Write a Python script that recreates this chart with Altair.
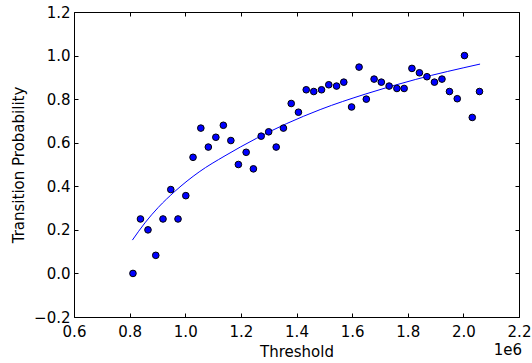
import altair as alt
import pandas as pd

threshold = [812000, 839000, 866000, 894000, 920000, 948000, 974000, 1002000,
             1028000, 1056000, 1083000, 1110000, 1137000, 1164000, 1191000, 1219000, 1245000,
             1273000, 1300000, 1327000, 1353000, 1381000, 1407000,
             1435000, 1462000, 1490000, 1516000, 1544000, 1570000, 1598000, 1625000, 1651000,
             1679000, 1705000, 1733000, 1761000, 1787000, 1815000, 1842000, 1869000, 1896000,
             1923000, 1950000, 1978000, 2004000, 2032000, 2058000]
probability = [0.0, 0.25, 0.2, 0.083, 0.25, 0.385, 0.25, 0.357,
               0.533, 0.667, 0.58, 0.625, 0.68, 0.61, 0.5, 0.556, 0.48,
               0.63, 0.65, 0.58, 0.667, 0.78, 0.74,
               0.843, 0.835, 0.843, 0.866, 0.86, 0.878, 0.764, 0.947, 0.8,
               0.892, 0.878, 0.86, 0.849, 0.849, 0.941, 0.921, 0.903, 0.878,
               0.892, 0.835, 0.802, 1.0, 0.716, 0.835]

fit_threshold = [810000, 855000, 903000, 963000, 1050000, 1143000, 1256000, 1365000,
                 1485000, 1647000, 1827000, 2060000]
fit_probability = [0.153, 0.232, 0.303, 0.377, 0.466, 0.540, 0.620, 0.688,
                   0.752, 0.823, 0.890, 0.961]

x_ticks = [600000, 800000, 1000000, 1200000, 1400000, 1600000, 1800000, 2000000, 2200000]
y_ticks = [-0.2, 0.0, 0.2, 0.4, 0.6, 0.8, 1.0, 1.2]
x_domain = [600000, 2200000]
y_domain = [-0.2, 1.2]
offset_label = ["1e6"]

pts = pd.DataFrame({"threshold": threshold, "probability": probability})
fit = pd.DataFrame({"threshold": fit_threshold, "probability": fit_probability})
note = pd.DataFrame({"label": offset_label})

xs = alt.Scale(domain=x_domain, nice=False, zero=False)
ys = alt.Scale(domain=y_domain, nice=False, zero=False)

lab_expr = "format(datum.value / 1000000, '.1f')"


def tick_axis(orient):
    return alt.Axis(orient=orient, offset=-4, tickSize=4, tickWidth=1, tickColor="black",
                    labels=False, domain=False, grid=False, title=None,
                    values=x_ticks if orient in ("top", "bottom") else y_ticks)


line = alt.Chart(fit).mark_line(color="#0000ff", strokeWidth=1, interpolate="monotone").encode(
    x=alt.X("threshold:Q", scale=xs, axis=tick_axis("bottom")),
    y=alt.Y("probability:Q", scale=ys, axis=tick_axis("left")),
)

points = alt.Chart(pts).mark_circle(size=44, fill="#0000ff", stroke="black", strokeWidth=1, opacity=1).encode(
    x=alt.X("threshold:Q", scale=xs,
            axis=alt.Axis(orient="bottom", values=x_ticks, labelExpr=lab_expr, ticks=False, domain=False,
                          grid=False, labelPadding=7, labelFlush=False, labelOverlap=False,
                          title="Threshold", titlePadding=5)),
    y=alt.Y("probability:Q", scale=ys,
            axis=alt.Axis(orient="left", values=y_ticks, format=".1f", ticks=False, domain=False,
                          grid=False, labelPadding=4, labelFlush=False, labelOverlap=False,
                          title="Transition Probability", titlePadding=7)),
)

ghost = alt.Chart(pts).mark_point(opacity=0).encode(
    x=alt.X("threshold:Q", scale=xs, axis=tick_axis("top")),
    y=alt.Y("probability:Q", scale=ys, axis=tick_axis("right")),
)

text = alt.Chart(note).mark_text(align="right", baseline="middle", font="DejaVu Sans", fontSize=15,
                                 color="black").encode(
    x=alt.value(448), y=alt.value(338), text="label:N"
)

chart = alt.layer(line, points, ghost, text).resolve_axis(x="independent", y="independent").properties(
    width=445, height=305,
    autosize=alt.AutoSizeParams(type="none"),
    padding={"left": 74, "top": 12, "right": 13, "bottom": 46},
    background="white",
).configure_view(stroke="black", strokeWidth=1).configure_axis(
    labelFont="DejaVu Sans", labelFontSize=15, labelColor="black",
    titleFont="DejaVu Sans", titleFontSize=15, titleFontWeight="normal", titleColor="black",
)

chart.save("out.html", embed_options={"renderer": "svg", "actions": False})
